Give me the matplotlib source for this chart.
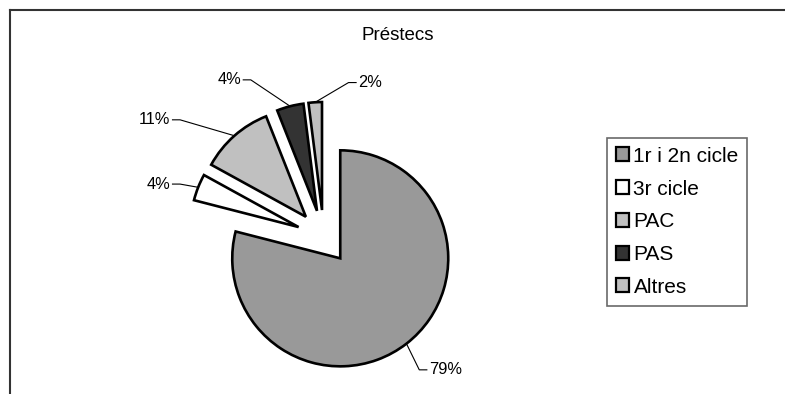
import numpy as np
import matplotlib
matplotlib.use("Agg")
import matplotlib.pyplot as plt
from matplotlib.lines import Line2D
from matplotlib.patches import Rectangle

plt.rcParams['font.family'] = ['Liberation Sans', 'DejaVu Sans']

# data
categories = ["1r i 2n cicle", "3r cicle", "PAC", "PAS", "Altres"]
shares = [79, 4, 11, 4, 2]
labels = ["79%", "4%", "11%", "4%", "2%"]
colors = ["#999999", "#ffffff", "#c0c0c0", "#333333", "#c0c0c0"]

# label text positions (pie radius units) and alignment
label_pos = [(0.975, -1.23), (-1.42, 0.49), (-1.42, 1.085), (-0.765, 1.455), (0.32, 1.43)]
label_ha = ["left", "right", "right", "right", "left"]

W, H = 785, 394
R_PX = 108.0          # pie radius in pixels
CX, CY = 323.7, 237.0  # pie centre in pixels (from top-left)

fig = plt.figure(figsize=(W / 100, H / 100), dpi=100)
ax = fig.add_axes([0, 0, 1, 1])

explode = [0.25] * len(shares)
wedges, _ = ax.pie(shares, colors=colors, startangle=90, counterclock=False,
                   explode=explode, radius=1.0,
                   wedgeprops=dict(edgecolor="black", linewidth=1.9))

# pie() resets limits/aspect, so place it afterwards
ax.set_aspect("auto")
ax.set_xlim(-CX / R_PX, (W - CX) / R_PX)
ax.set_ylim(-(H - CY) / R_PX, CY / R_PX)
ax.axis("off")

# leader lines + percentage labels
for w, lab, (tx, ty), ha in zip(wedges, labels, label_pos, label_ha):
    mid = np.deg2rad((w.theta1 + w.theta2) / 2)
    cx, cy = w.center
    px, py = cx + w.r * np.cos(mid), cy + w.r * np.sin(mid)
    sgn = 1 if ha == "left" else -1
    ex = tx - sgn * 0.09
    ax.plot([px, ex, tx - sgn * 0.02], [py, ty, ty], color="black", lw=0.8)
    ax.text(tx, ty, lab, ha=ha, va="center", fontsize=11.8)

fig.text(398 / W, 1 - 35 / H, "Préstecs", ha="center", va="center", fontsize=13.5)

# legend
handles = [Rectangle((0, 0), 1, 1, facecolor=c, edgecolor="black", linewidth=1.6) for c in colors]
leg = fig.legend(handles, categories, loc="upper left",
                 bbox_to_anchor=(607 / W, 1 - 138 / H), borderaxespad=0,
                 fontsize=15, frameon=True, fancybox=False,
                 handlelength=0.65, handleheight=0.65, handletextpad=0.2,
                 labelspacing=0.66, borderpad=0.42)
leg.get_frame().set_edgecolor("#444444")
leg.get_frame().set_linewidth(1.2)

# chart area border (top and left visible)
fig.add_artist(Line2D([9.5 / W, 784 / W], [1 - 9.5 / H, 1 - 9.5 / H], color="#333333", lw=1.5))
fig.add_artist(Line2D([9.5 / W, 9.5 / W], [0, 1 - 9.5 / H], color="#333333", lw=1.5))

fig.savefig("out.png", dpi=100)
